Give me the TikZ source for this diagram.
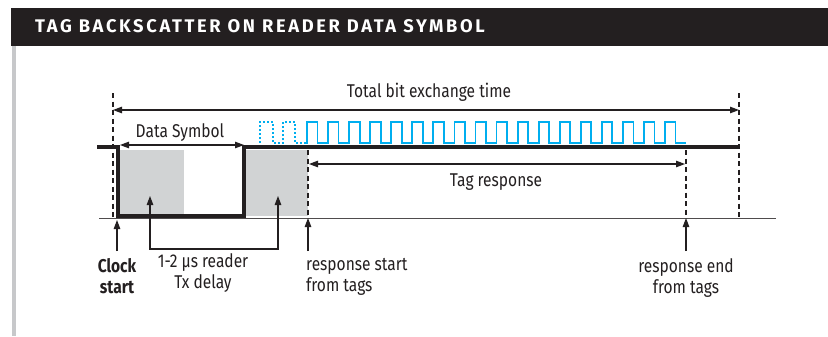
\documentclass[tikz,border=0pt]{standalone}
\usepackage{fontspec}
\setmainfont{Fira Sans}[FakeStretch=0.84]
\newfontfamily\headfont{Fira Sans}[LetterSpace=14.5]
\usetikzlibrary{arrows.meta}
\definecolor{ink}{HTML}{231F20}
\definecolor{greyfill}{HTML}{D1D3D4}
\definecolor{framegrey}{HTML}{C7C8CA}
\definecolor{tagblue}{HTML}{00AEEF}
\begin{document}
\begin{tikzpicture}[x=1bp,y=-1bp,
  lbl/.style={font=\fontsize{18.5bp}{20.5bp}\selectfont, text=ink, inner sep=0pt, align=center},
  dimline/.style={draw=ink, line width=1.1bp, {Triangle[length=9bp,width=6.5bp]}-{Triangle[length=9bp,width=6.5bp]}},
  pointer/.style={draw=ink, line width=1.1bp, -{Triangle[length=9bp,width=6.5bp]}},
  marker/.style={draw=ink, line width=2bp, dash pattern=on 5bp off 3.5bp},
  signal/.style={draw=ink, line width=4bp, line join=miter},
  wave/.style={draw=tagblue, line width=1.8bp},
  prewave/.style={draw=tagblue, line width=1.8bp, dash pattern=on 1.8bp off 2.2bp}]
\useasboundingbox (0,0) rectangle (828,336);
\fill[white] (0,0) rectangle (828,336);

% header bar and frame
\fill[ink] (11,8) rectangle (828,46);
\node[anchor=base west, text=white, inner sep=0pt, font=\headfont\fontsize{18.3bp}{20bp}\selectfont\bfseries]
  (title) at (35,32) {TAG BACKSCATTER ON READER DATA SYMBOL};
\fill[framegrey] (12,46) rectangle (15.5,336);

% shaded intervals
\fill[greyfill] (120,150) rectangle (184,214);
\fill[greyfill] (246,150) rectangle (308,216);

% key instants
\coordinate (clk) at (113,93);     \coordinate (clkb) at (113,218);
\coordinate (rs)  at (308,150);    \coordinate (rsb)  at (308,218);
\coordinate (re)  at (686,150);    \coordinate (reb)  at (686,218);
\coordinate (te)  at (739,93);     \coordinate (teb)  at (739,218);

% time axis
\coordinate (ax0) at (99,218);
\coordinate (ax1) at (776,218);
\draw[draw=ink!80, line width=0.9bp] (ax0) -- (ax1);

% reader signal
\coordinate (s0) at (97,147);
\coordinate (s1) at (739,147);
\draw[signal] (s0) -- (118,147) -- (118,216) -- (244,216) -- (244,147) -- (s1);

% tag backscatter
\draw[prewave] (260,143) -- (260,122) -- (273,122) -- (273,143) -- (283,143)
  -- (283,122) -- (295,122) -- (295,143) -- (306,143);
\draw[wave] (306,143) -- (307,143)
  \foreach \i in {1,...,18} { -- ++(0,-21) -- ++(10.5,0) -- ++(0,21) -- ++(10.56,0) };

% dashed markers
\draw[marker] (clk) -- (clkb);
\draw[marker] (rs) -- (rsb);
\draw[marker] (re) -- (reb);
\draw[marker] (te) -- (teb);

% dimension arrows
\coordinate (tb0) at (113,110); \coordinate (tb1) at (739,110);
\draw[dimline] (tb0) -- (tb1);
\node[lbl, anchor=base] (ttot) at (429,97) {Total bit exchange time};

\coordinate (ds0) at (120,145); \coordinate (ds1) at (244,145);
\draw[dimline] (ds0) -- (ds1);
\node[lbl, anchor=base] (tds) at (180,137) {Data Symbol};

\coordinate (tr0) at (309,164); \coordinate (tr1) at (685,164);
\draw[dimline] (tr0) -- (tr1);
\node[lbl, anchor=base] (ttr) at (496,186) {Tag response};

% event pointers and captions
\node[lbl, anchor=north, font=\fontsize{18.5bp}{20.5bp}\selectfont\bfseries] (cs) at (117,258.5) {Clock\\start};
\coordinate (csp) at (117,220);
\draw[pointer] (117,251) -- (csp);

\node[lbl, anchor=north] (dly) at (203,253.5) {1-2 µs reader\\Tx delay};
\coordinate (d0) at (150,196); \coordinate (d1) at (278,196);
\coordinate (d0b) at (150,249); \coordinate (d1b) at (278,249);
\draw[dimline] (d0) -- (d0b) -- (d1b) -- (d1);

\node[lbl, anchor=north west, align=left] (rst) at (306,258.5) {response start\\from tags};
\draw[pointer] (308,251) -- (rsb);

\node[lbl, anchor=north] (ren) at (686,258.5) {response end\\from tags};
\draw[pointer] (686,251) -- (reb);
\end{tikzpicture}
\end{document}
